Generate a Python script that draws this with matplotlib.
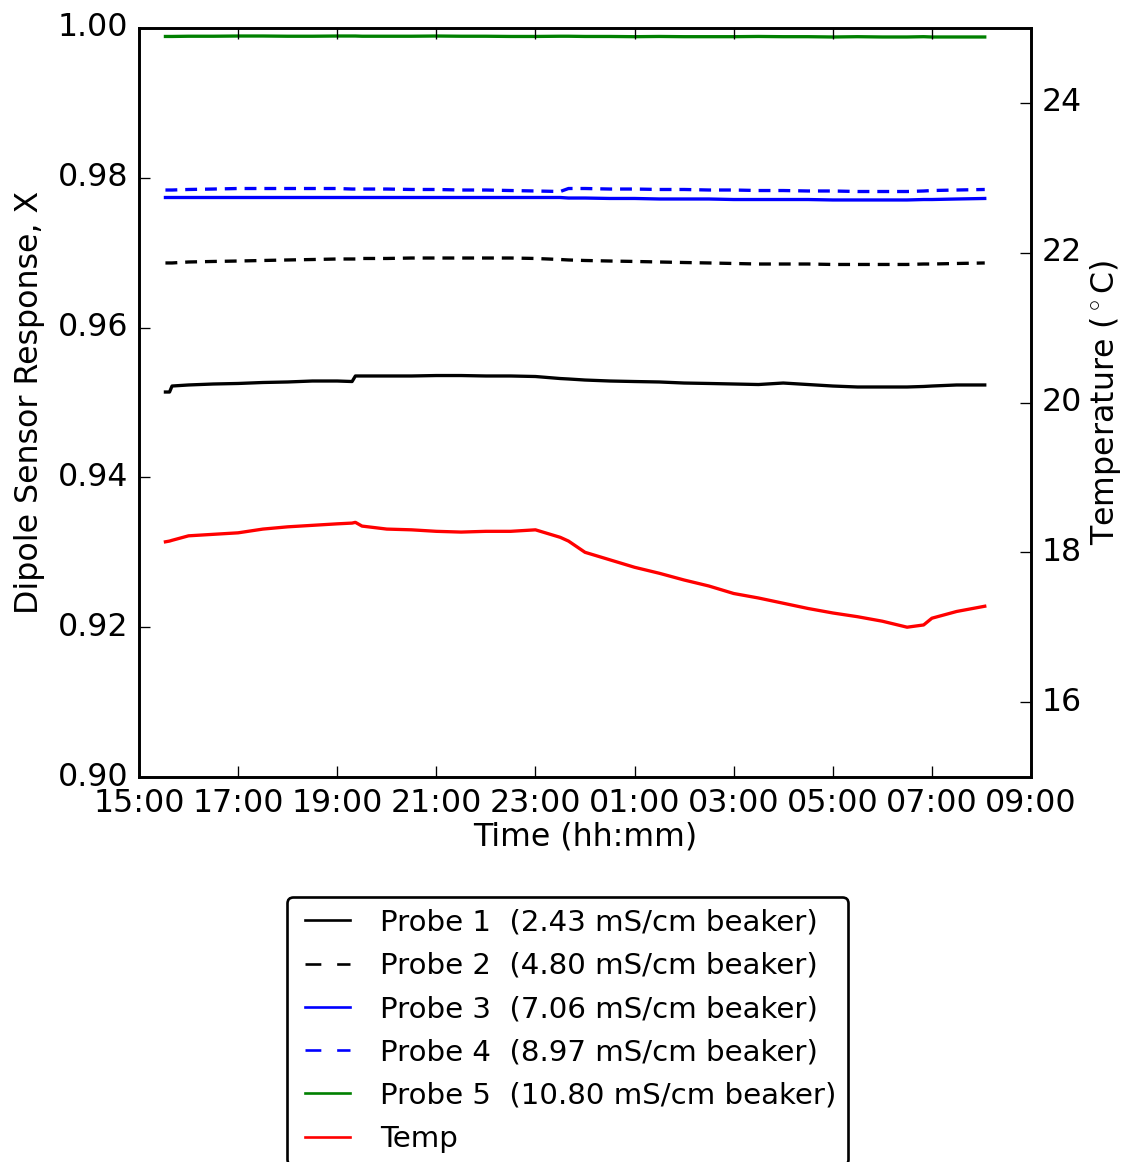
import matplotlib
matplotlib.use('Agg')
import matplotlib.pyplot as plt
import matplotlib.dates as mdates
from matplotlib.legend_handler import HandlerLine2D
import pandas as pd

plt.style.use('classic')

# sample times (clock time, overnight run)
times = ['15:32', '15:37', '15:40', '16:00', '16:30', '17:00', '17:30', '18:00', '18:30',
         '19:00', '19:18', '19:22', '19:30', '20:00', '20:30', '21:00', '21:30',
         '22:00', '22:30', '23:00', '23:30', '23:40', '00:00', '00:30', '01:00',
         '01:30', '02:00', '02:30', '03:00', '03:30', '04:00', '04:30', '05:00',
         '05:30', '06:00', '06:30', '06:50', '07:00', '07:30', '08:04']

probe1 = [0.95140, 0.95140, 0.95220, 0.95234, 0.95247, 0.95254, 0.95267, 0.95274, 0.95287,
          0.95287, 0.95280, 0.95354, 0.95354, 0.95354, 0.95354, 0.95360, 0.95360,
          0.95354, 0.95354, 0.95347, 0.95320, 0.95314, 0.95300, 0.95287, 0.95280,
          0.95274, 0.95260, 0.95254, 0.95247, 0.95240, 0.95260, 0.95240, 0.95220,
          0.95207, 0.95207, 0.95207, 0.95214, 0.95220, 0.95234, 0.95234]
probe2 = [0.96863, 0.96863, 0.96863, 0.96876, 0.96883, 0.96889, 0.96896, 0.96903, 0.96909,
          0.96916, 0.96916, 0.96916, 0.96923, 0.96923, 0.96929, 0.96929, 0.96929,
          0.96929, 0.96929, 0.96923, 0.96909, 0.96903, 0.96896, 0.96889, 0.96883,
          0.96876, 0.96869, 0.96863, 0.96856, 0.96849, 0.96849, 0.96849, 0.96843,
          0.96843, 0.96843, 0.96843, 0.96849, 0.96849, 0.96856, 0.96863]
probe3 = [0.97737, 0.97737, 0.97737, 0.97737, 0.97737, 0.97737, 0.97737, 0.97737, 0.97737,
          0.97737, 0.97737, 0.97737, 0.97737, 0.97737, 0.97737, 0.97737, 0.97737,
          0.97737, 0.97737, 0.97737, 0.97737, 0.97730, 0.97730, 0.97724, 0.97724,
          0.97717, 0.97717, 0.97717, 0.97710, 0.97710, 0.97710, 0.97710, 0.97704,
          0.97704, 0.97704, 0.97704, 0.97710, 0.97710, 0.97717, 0.97724]
probe4 = [0.97837, 0.97837, 0.97837, 0.97844, 0.97850, 0.97857, 0.97857, 0.97857, 0.97857,
          0.97857, 0.97850, 0.97850, 0.97850, 0.97850, 0.97844, 0.97844, 0.97837,
          0.97837, 0.97830, 0.97824, 0.97817, 0.97857, 0.97857, 0.97850, 0.97850,
          0.97844, 0.97844, 0.97837, 0.97837, 0.97830, 0.97830, 0.97824, 0.97824,
          0.97817, 0.97817, 0.97817, 0.97824, 0.97830, 0.97837, 0.97844]
probe5 = [0.99887, 0.99887, 0.99887, 0.99890, 0.99890, 0.99893, 0.99893, 0.99890, 0.99890,
          0.99893, 0.99893, 0.99893, 0.99890, 0.99890, 0.99890, 0.99893, 0.99890,
          0.99890, 0.99887, 0.99887, 0.99890, 0.99890, 0.99887, 0.99887, 0.99884,
          0.99887, 0.99884, 0.99884, 0.99884, 0.99887, 0.99884, 0.99884, 0.99880,
          0.99884, 0.99880, 0.99880, 0.99884, 0.99880, 0.99880, 0.99880]
temp = [18.14, 18.15, 18.16, 18.22, 18.24, 18.26, 18.31, 18.34, 18.36,
        18.38, 18.39, 18.40, 18.35, 18.31, 18.30, 18.28, 18.27,
        18.28, 18.28, 18.30, 18.20, 18.15, 18.00, 17.90, 17.80,
        17.72, 17.63, 17.55, 17.45, 17.39, 17.32, 17.25, 17.19,
        17.14, 17.08, 17.00, 17.03, 17.12, 17.21, 17.28]

labels = ['Probe 1  (2.43 mS/cm beaker)', 'Probe 2  (4.80 mS/cm beaker)',
          'Probe 3  (7.06 mS/cm beaker)', 'Probe 4  (8.97 mS/cm beaker)',
          'Probe 5  (10.80 mS/cm beaker)', 'Temp']


def to_dt(hhmm):
    t = pd.Timestamp('2016-03-01 ' + hhmm)
    if t.hour < 12:
        t += pd.Timedelta(days=1)
    return t


t = [to_dt(s) for s in times]

dpi = 190
fig = plt.figure(figsize=(1122 / dpi, 1162 / dpi), dpi=dpi, facecolor='white')
ax = fig.add_axes([139 / 1122, 385 / 1162, 892 / 1122, 749 / 1162])
ax2 = ax.twinx()

lw = 1.25
l1, = ax.plot(t, probe1, 'k-', lw=lw)
l2, = ax.plot(t, probe2, 'k--', lw=lw, dashes=(4.5, 3))
l3, = ax.plot(t, probe3, 'b-', lw=lw)
l4, = ax.plot(t, probe4, 'b--', lw=lw, dashes=(4.5, 3))
l5, = ax.plot(t, probe5, 'g-', lw=lw)
l6, = ax2.plot(t, temp, 'r-', lw=lw)

ax.set_ylim(0.90, 1.00)
ax.set_yticks([0.90, 0.92, 0.94, 0.96, 0.98, 1.00])
ax.yaxis.set_major_formatter(matplotlib.ticker.FormatStrFormatter('%.2f'))
ax2.set_ylim(15, 25)
ax2.set_yticks([16, 18, 20, 22, 24])

ax.set_xlim(to_dt('15:00'), to_dt('09:00'))
ax.xaxis.set_major_locator(mdates.HourLocator(byhour=range(1, 24, 2)))
ax.xaxis.set_major_formatter(mdates.DateFormatter('%H:%M'))

ax.set_xlabel('Time (hh:mm)', fontsize=12, labelpad=1.2)
ax.set_ylabel('Dipole Sensor Response, X', fontsize=12)
ax2.set_ylabel(r'Temperature ($^\circ$C)', fontsize=12)
ax2.yaxis.set_label_coords(1.064, 0.5)

leg = ax.legend([l1, l2, l3, l4, l5, l6], labels, loc='upper left',
                bbox_to_anchor=(287 / 1122, 1 - 897 / 1162),
                bbox_transform=fig.transFigure, borderaxespad=0,
                fontsize=11.1, handlelength=1.75, handletextpad=1.02,
                labelspacing=0.52, fancybox=True, numpoints=1,
                handler_map={matplotlib.lines.Line2D: HandlerLine2D(xpad=0.22)})
leg.get_frame().set_edgecolor('black')
for h in leg.get_lines():
    h.set_linewidth(1)
    if h.get_linestyle() == '--':
        h.set_dashes((6, 6))

fig.savefig('out.png', dpi=dpi, facecolor='white')
